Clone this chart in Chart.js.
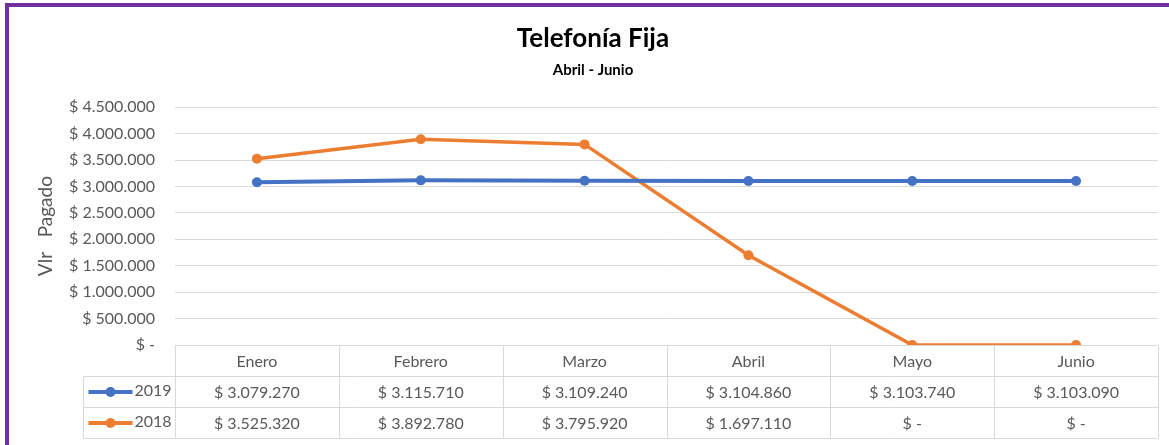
<!DOCTYPE html>
<html>
<head>
<meta charset="utf-8">
<script src="https://cdn.jsdelivr.net/npm/chart.js@4"></script>
<style>
  html, body { margin: 0; padding: 0; background: #ffffff; }
  #wrap { position: relative; width: 1169px; height: 445px; overflow: hidden; }
  #frame { position: absolute; left: 5px; top: 3px; width: 2000px; height: 2000px;
           border-left: 4px solid #7030a0; border-top: 4px solid #7030a0; }
  canvas { position: absolute; left: 0; top: 0; }
</style>
</head>
<body>
<div id="wrap">
  <div id="frame"></div>
  <canvas id="c" width="1169" height="445"></canvas>
</div>
<script>
const months = ['Enero', 'Febrero', 'Marzo', 'Abril', 'Mayo', 'Junio'];
const series2019 = [3079270, 3115710, 3109240, 3104860, 3103740, 3103090];
const series2018 = [3525320, 3892780, 3795920, 1697110, 0, 0];
const seriesNames = ['2019', '2018'];
const seriesColors = ['#4472c4', '#ed7d31'];
const yTicks = [0, 500000, 1000000, 1500000, 2000000, 2500000, 3000000, 3500000, 4000000, 4500000];

function fmt(v) {
  if (v === 0) return '$ -';
  return '$ ' + Math.round(v).toString().replace(/\B(?=(\d{3})+(?!\d))/g, '.');
}

const textGray = '#595959';
const borderGray = '#d9d9d9';

const dataTablePlugin = {
  id: 'dataTable',
  afterDraw(chart) {
    const { ctx, chartArea: a, scales: { x } } = chart;
    const rowH = 31;
    const top = Math.round(a.bottom) + 0.5;
    const legendLeft = Math.round(a.left - 92) + 0.5;
    const right = Math.round(a.right) + 0.5;
    const colEdges = [];
    for (let i = 0; i <= months.length; i++) colEdges.push(Math.round(x.getPixelForValue(i - 0.5)) + 0.5);
    const y1 = top + rowH, y2 = top + 2 * rowH, y3 = top + 3 * rowH;
    ctx.save();
    ctx.strokeStyle = borderGray;
    ctx.lineWidth = 1;
    ctx.beginPath();
    ctx.moveTo(colEdges[0], top); ctx.lineTo(right, top);
    [y1, y2, y3].forEach(y => { ctx.moveTo(legendLeft, y); ctx.lineTo(right, y); });
    colEdges.forEach(cx => { ctx.moveTo(cx, top); ctx.lineTo(cx, y3); });
    ctx.moveTo(legendLeft, y1); ctx.lineTo(legendLeft, y3);
    ctx.stroke();

    ctx.font = '16px Lato, "Open Sans", sans-serif';
    ctx.fillStyle = textGray;
    ctx.textAlign = 'center';
    ctx.textBaseline = 'middle';
    months.forEach((m, i) => ctx.fillText(m, x.getPixelForValue(i), top + rowH / 2 + 1));
    const rows = [series2019, series2018];
    rows.forEach((vals, r) => {
      const cy = top + rowH * (r + 1) + rowH / 2 + 1;
      vals.forEach((v, i) => ctx.fillText(fmt(v), x.getPixelForValue(i), cy));
      const lx0 = legendLeft + 5, lx1 = legendLeft + 49;
      ctx.strokeStyle = seriesColors[r];
      ctx.lineWidth = 4;
      ctx.beginPath(); ctx.moveTo(lx0, cy - 1); ctx.lineTo(lx1, cy - 1); ctx.stroke();
      ctx.fillStyle = seriesColors[r];
      ctx.beginPath(); ctx.arc((lx0 + lx1) / 2, cy - 1, 5, 0, Math.PI * 2); ctx.fill();
      ctx.fillStyle = textGray;
      ctx.textAlign = 'left';
      ctx.fillText(seriesNames[r], lx1 + 2, cy - 2);
      ctx.textAlign = 'center';
    });
    ctx.restore();
  }
};

function build() {
  Chart.defaults.font.family = 'Lato, "Open Sans", sans-serif';
  new Chart(document.getElementById('c'), {
    type: 'line',
    data: {
      labels: months,
      datasets: [
        { label: seriesNames[0], data: series2019, borderColor: seriesColors[0], backgroundColor: seriesColors[0],
          borderWidth: 4, pointRadius: 5, pointBorderWidth: 0, pointBackgroundColor: seriesColors[0], tension: 0 },
        { label: seriesNames[1], data: series2018, borderColor: seriesColors[1], backgroundColor: seriesColors[1],
          borderWidth: 3.5, pointRadius: 5, pointBorderWidth: 0, pointBackgroundColor: seriesColors[1], tension: 0 }
      ]
    },
    options: {
      responsive: false,
      animation: false,
      layout: { padding: { left: 28, right: 11, top: 0, bottom: 100 } },
      plugins: {
        legend: { display: false },
        tooltip: { enabled: false },
        title: { display: true, text: 'Telefonía Fija', color: '#000000',
                 font: { size: 26, weight: 'bold' }, padding: { top: 23, bottom: 0 } },
        subtitle: { display: true, text: 'Abril - Junio', color: '#000000',
                    font: { size: 15, weight: 'bold' }, padding: { top: 7, bottom: 28 } }
      },
      scales: {
        x: { type: 'category', display: false, offset: true },
        y: {
          min: 0, max: 4500000,
          afterBuildTicks(scale) { scale.ticks = yTicks.map(v => ({ value: v })); },
          afterFit(scale) { scale.width = 147; },
          ticks: { color: textGray, font: { size: 16 }, padding: 20, callback: v => fmt(v) },
          grid: { color: borderGray, lineWidth: 1, drawTicks: false },
          border: { display: false },
          title: { display: true, text: 'Vlr   Pagado', color: textGray, font: { size: 19 }, padding: { top: 6 } }
        }
      }
    },
    plugins: [dataTablePlugin]
  });
}

if (document.fonts && document.fonts.load) {
  Promise.all([document.fonts.load('16px Lato'), document.fonts.load('bold 15px Lato')]).then(build, build);
} else {
  build();
}
</script>
</body>
</html>
